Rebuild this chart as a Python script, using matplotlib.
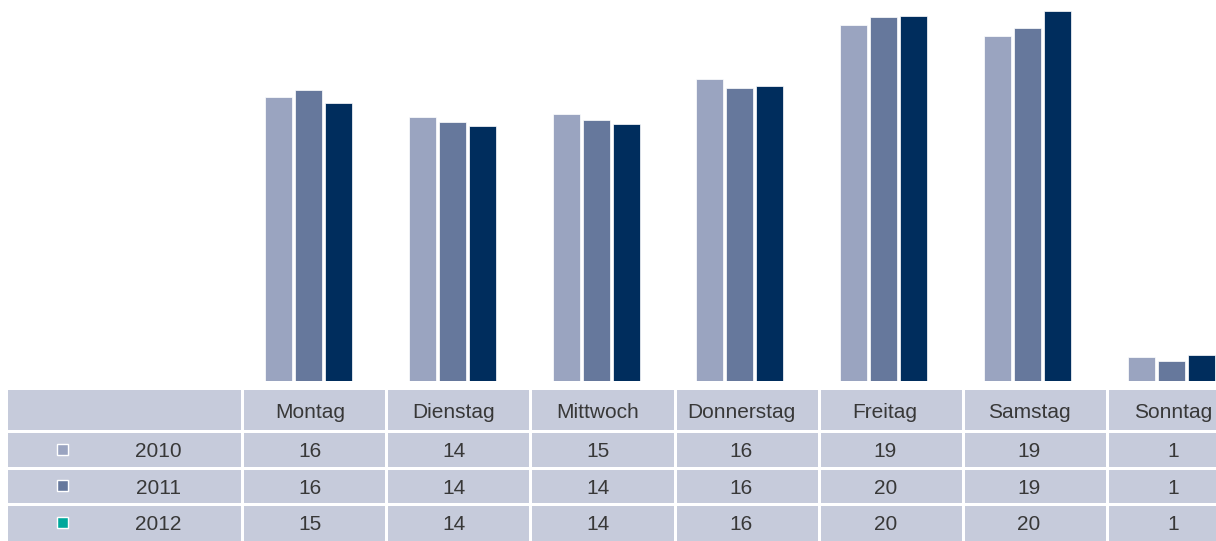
import matplotlib
matplotlib.use("Agg")
import matplotlib.pyplot as plt
from matplotlib.patches import Rectangle
import numpy as np

days = ["Montag", "Dienstag", "Mittwoch", "Donnerstag", "Freitag", "Samstag", "Sonntag"]
years = ["2010", "2011", "2012"]
v2010 = [15.5, 14.4, 14.55, 16.45, 19.4, 18.8, 1.26]
v2011 = [15.85, 14.1, 14.25, 16.0, 19.85, 19.25, 1.04]
v2012 = [15.15, 13.9, 14.0, 16.1, 19.9, 20.2, 1.42]
series = [v2010, v2011, v2012]

bar_colors = ["#9aa4c0", "#66789c", "#002d5d"]
marker_colors = ["#9aa4c0", "#66789c", "#00a99c"]
cell_bg = "#c6cbdb"
text_color = "#383838"
font = "Liberation Sans"

W, H = 1216, 541
fig = plt.figure(figsize=(W / 100, H / 100), dpi=100)

# ---- bar axes (pixel layout: starts at x=242, baseline y=380.5) ----
grp_w = 143.8
left_px, base_px = 242, 380.5
ax = fig.add_axes([left_px / W, (H - base_px) / H, (W - left_px) / W, base_px / H])
ax.set_xlim(0, (W - left_px) / grp_w)
ax.set_ylim(0, base_px / 18.3)
ax.axis("off")
x = np.arange(len(days))
bw = 27 / grp_w
step = 30 / grp_w
center = 0.4625
for j, vals in enumerate(series):
    ax.bar(x + center + (j - 1) * step, vals, width=bw, color=bar_colors[j],
           edgecolor="white", linewidth=0.5)

# ---- table ----
tx = fig.add_axes([0, 0, 1, 1])
tx.set_xlim(0, W)
tx.set_ylim(H, 0)
tx.axis("off")
col_w = 144.2
col_edges = [8] + [241 + i * col_w for i in range(7)] + [W + 2]
row_edges = [390, 430, 466.5, 502.5, 543]
gap = 3
for r in range(len(row_edges) - 1):
    for c in range(len(col_edges) - 1):
        x0 = col_edges[c] + (gap if c > 0 else 0)
        y0 = row_edges[r] + (gap if r > 0 else 0)
        tx.add_patch(Rectangle((x0, y0), col_edges[c + 1] - x0, row_edges[r + 1] - y0,
                               facecolor=cell_bg, edgecolor="none"))

fs = 15
row_text_y = [412.5, 451.5, 488, 525]

for c, d in enumerate(days):
    cx = left_px + (c + center) * grp_w + 1.5
    tx.text(cx, row_text_y[0], d, ha="center", va="center", fontsize=fs, color=text_color, family=font)
    for j, vals in enumerate(series):
        tx.text(cx, row_text_y[j + 1], f"{round(vals[c])}", ha="center", va="center",
                fontsize=fs, color=text_color, family=font)

for j, yname in enumerate(years):
    yc = row_text_y[j + 1]
    tx.add_patch(Rectangle((57, yc - 8), 11, 11, facecolor=marker_colors[j],
                           edgecolor="white", linewidth=1.0))
    tx.text(158.5, yc, yname, ha="center", va="center", fontsize=fs, color=text_color, family=font)

fig.savefig("out.png", dpi=100)
